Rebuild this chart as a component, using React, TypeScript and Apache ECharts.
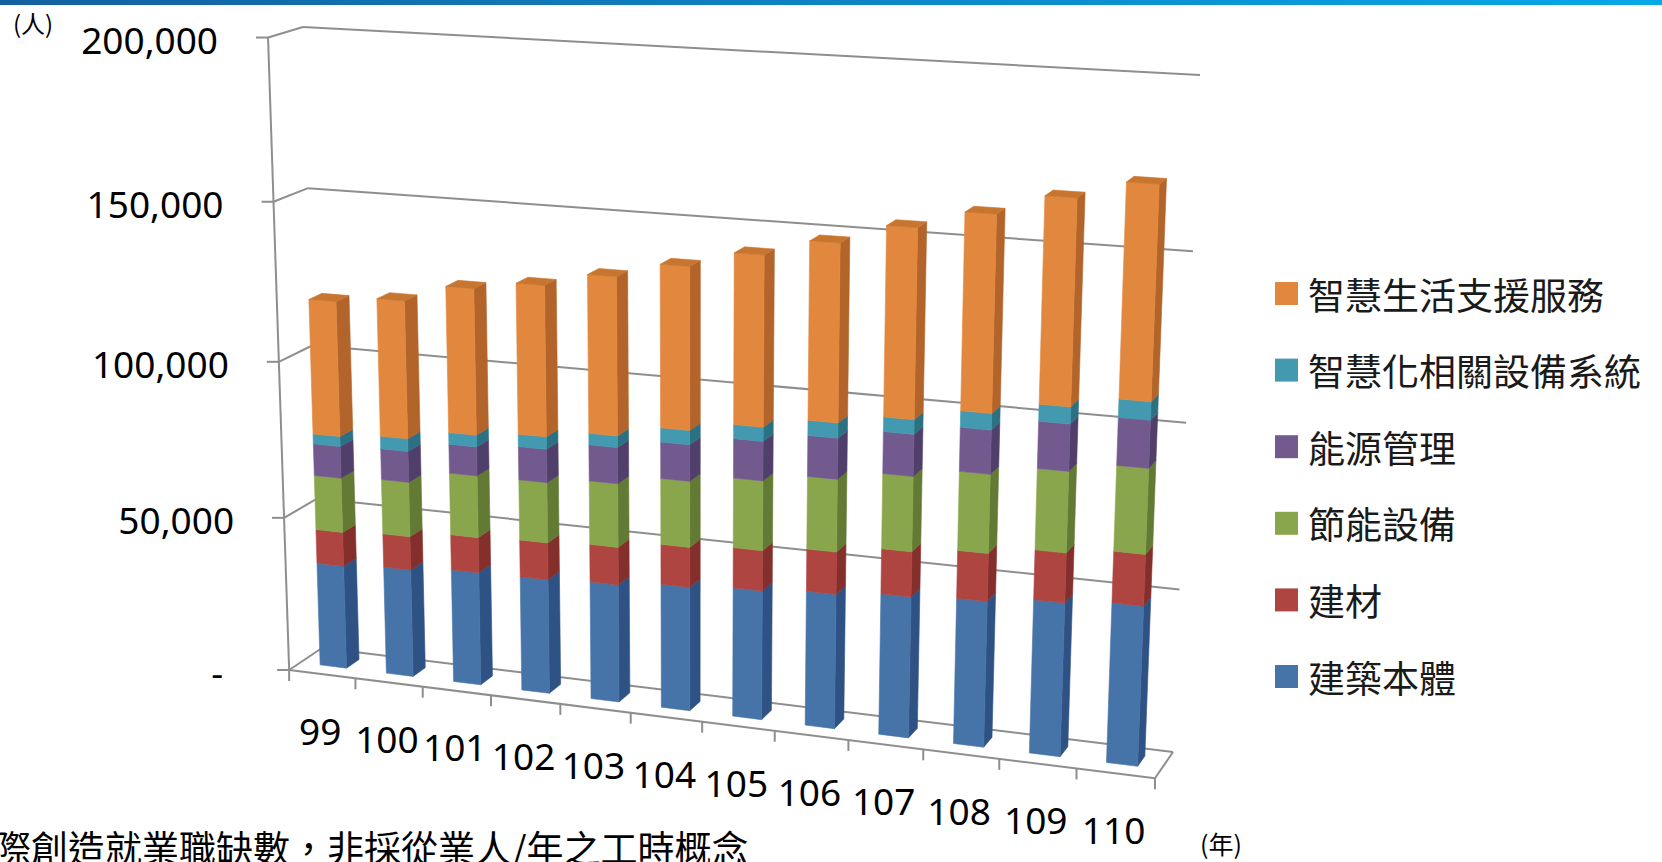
import React, { useEffect, useRef } from "react";
import * as echarts from "echarts";

// ---------------- data ----------------
const years = ["99", "100", "101", "102", "103", "104", "105", "106", "107", "108", "109", "110"];
const seriesNames = ["建築本體", "建材", "節能設備", "能源管理", "智慧化相關設備系統", "智慧生活支援服務"];
const building = [33700, 34900, 36500, 36700, 37600, 39300, 40700, 42200, 43900, 45100, 47200, 48800];
const materials = [11000, 10800, 11300, 11800, 11900, 12600, 12600, 13100, 13900, 14600, 15100, 15500];
const equipment = [17600, 17500, 19700, 19100, 20000, 20600, 21600, 22300, 22900, 23900, 24400, 25500];
const energyMgmt = [10200, 9900, 9200, 10500, 11300, 11300, 12100, 12500, 12700, 13200, 14000, 14100];
const smartSystems = [3200, 4000, 3700, 3900, 3600, 4400, 4300, 4600, 4400, 4900, 5000, 5400];
const smartLiving = [42800, 43400, 45700, 46800, 48800, 49800, 51800, 53600, 56600, 58200, 60400, 62200];
const yTicks = [0, 50000, 100000, 150000, 200000];
const yTickLabels = ["-", "50,000", "100,000", "150,000", "200,000"];
const yMax = 200000;
const unitY = "(人)";
const unitX = "(年)";
const noteText = "際創造就業職缺數，非採從業人/年之工時概念";

const layers = [building, materials, equipment, energyMgmt, smartSystems, smartLiving];
const frontColors = ["#4673A8", "#AF4541", "#8AA64C", "#735A8E", "#4299B0", "#E2883E"];
const sideColors = ["#2F5284", "#852F2C", "#627A34", "#503F6A", "#2C7083", "#B2642A"];
const topColors = ["#3A6296", "#9A3A36", "#789343", "#62507E", "#36859C", "#C8752F"];

// ---------------- perspective ----------------
type P2 = [number, number];
const BL: P2 = [322, 648];
const BR: P2 = [1173, 752];
const TR: P2 = [1200, 75];
const TL: P2 = [303, 27];
const FRONT_PTS: [number, number, number, number][] = [
  [0, 0, 292, 668],
  [1, 0, 1155, 780],
  [0, 1, 265, 38],
];

function solve3(M: number[][], r: number[]) {
  const det = (m: number[][]) =>
    m[0][0] * (m[1][1] * m[2][2] - m[1][2] * m[2][1]) -
    m[0][1] * (m[1][0] * m[2][2] - m[1][2] * m[2][0]) +
    m[0][2] * (m[1][0] * m[2][1] - m[1][1] * m[2][0]);
  const D = det(M);
  return [0, 1, 2].map((k) => {
    const Mk = M.map((row, i) => row.map((val, j) => (j === k ? r[i] : val)));
    return det(Mk) / D;
  });
}

function buildProjection() {
  const [x0, y0] = BL, [x1, y1] = BR, [x2, y2] = TR, [x3, y3] = TL;
  const sx = x0 - x1 + x2 - x3, sy = y0 - y1 + y2 - y3;
  const dx1 = x1 - x2, dx2 = x3 - x2, dy1 = y1 - y2, dy2 = y3 - y2;
  const den = dx1 * dy2 - dx2 * dy1;
  const g = (sx * dy2 - dx2 * sy) / den;
  const h = (dx1 * sy - sx * dy1) / den;
  const a = x1 - x0 + g * x1, b = x3 - x0 + h * x3, c = x0;
  const d = y1 - y0 + g * y1, e = y3 - y0 + h * y3, f = y0;
  const rows: number[][] = [];
  const rhs: number[] = [];
  FRONT_PTS.forEach(([u, v, X, Y]) => {
    const w = g * u + h * v + 1;
    rows.push([1, 0, -X]);
    rhs.push(X * w - (a * u + b * v + c));
    rows.push([0, 1, -Y]);
    rhs.push(Y * w - (d * u + e * v + f));
  });
  const N = [0, 1, 2].map((i) => [0, 1, 2].map((j) => rows.reduce((s, r) => s + r[i] * r[j], 0)));
  const nr = [0, 1, 2].map((i) => rows.reduce((s, r, k) => s + r[i] * rhs[k], 0));
  const [A, B, C] = solve3(N, nr);
  return (u: number, v: number, z: number): P2 => {
    const W = g * u + h * v + 1 + C * z;
    return [(a * u + b * v + c + A * z) / W, (d * u + e * v + f + B * z) / W];
  };
}
const project = buildProjection();

const GRID = { left: 0, top: 0, width: 1200, height: 800 };
const BAR_HALF = 0.2;
const Z_BACK = 0.27;
const Z_FRONT = 0.66;
const NUM_FONT = "'Noto Sans', 'Noto Sans CJK TC', sans-serif";
const CJK_FONT = "'Noto Sans CJK TC', 'Noto Sans', sans-serif";
const GRID_COLOR = "#8e8e8e";

const poly = (pts: P2[], color: string) => ({
  type: "polygon",
  shape: { points: pts },
  style: { fill: color, stroke: color, lineWidth: 0.6 },
});

const makeRender = (li: number, drawTop: boolean) => (_params: any, api: any) => {
  const i = api.value(0), lo = api.value(1), hi = api.value(2);
  const pl = api.coord([i, lo]);
  const ph = api.coord([i, hi]);
  const band = api.size([1, 0])[0];
  const uc = (pl[0] - GRID.left) / GRID.width;
  const du = (band / GRID.width) * BAR_HALF;
  const u0 = uc - du, u1 = uc + du;
  const vb = (GRID.top + GRID.height - pl[1]) / GRID.height;
  const vt = (GRID.top + GRID.height - ph[1]) / GRID.height;
  const P = project;
  const children: any[] = [
    poly([P(u1, vb, Z_FRONT), P(u1, vb, Z_BACK), P(u1, vt, Z_BACK), P(u1, vt, Z_FRONT)], sideColors[li]),
    poly([P(u0, vb, Z_FRONT), P(u1, vb, Z_FRONT), P(u1, vt, Z_FRONT), P(u0, vt, Z_FRONT)], frontColors[li]),
  ];
  if (drawTop) {
    children.push(poly([P(u0, vt, Z_FRONT), P(u1, vt, Z_FRONT), P(u1, vt, Z_BACK), P(u0, vt, Z_BACK)], topColors[li]));
  }
  return { type: "group", children };
};

function buildGraphics() {
  const els: any[] = [];
  const line = (p: P2, q: P2) => ({
    type: "line",
    silent: true,
    z: 1,
    shape: { x1: p[0], y1: p[1], x2: q[0], y2: q[1] },
    style: { stroke: GRID_COLOR, lineWidth: 2 },
  });
  els.push({
    type: "rect",
    z: 1,
    shape: { x: 0, y: 0, width: 1662, height: 5 },
    style: {
      fill: new echarts.graphic.LinearGradient(0, 0, 1, 0, [
        { offset: 0, color: "#13609f" },
        { offset: 1, color: "#08a8e8" },
      ]),
    },
  });
  yTicks.forEach((t, k) => {
    const v = t / yMax;
    const bl = project(0, v, 0), br = project(1, v, 0), fl = project(0, v, 1);
    els.push(line(bl, br));
    els.push(line(bl, fl));
    els.push(line(fl, [fl[0] - 12, fl[1]]));
    els.push({
      type: "text",
      z: 1,
      x: fl[0] + (t === 0 ? -66 : -50),
      y: fl[1] + 2,
      style: {
        text: yTickLabels[k],
        fill: "#000",
        fontSize: 37,
        fontFamily: NUM_FONT,
        align: "right",
        verticalAlign: "middle",
      },
    });
  });
  els.push(line(project(0, 0, 1), project(0, 1, 1)));
  els.push(line(project(0, 0, 1), project(1, 0, 1)));
  els.push(line(project(1, 0, 1), project(1, 0, 0)));
  for (let k = 0; k <= years.length; k++) {
    const p = project(k / years.length, 0, 1);
    els.push(line(p, [p[0], p[1] + 11]));
  }
  years.forEach((y, i) => {
    const p = project((i + 0.5) / years.length, 0, 1);
    els.push({
      type: "text",
      z: 1,
      x: p[0] - 2,
      y: p[1] + 56,
      style: {
        text: y,
        fill: "#000",
        fontSize: 37,
        fontFamily: NUM_FONT,
        align: "center",
        verticalAlign: "middle",
      },
    });
  });
  els.push({
    type: "text", z: 1, x: 33, y: 22,
    style: { text: unitY, fill: "#000", fontSize: 24, fontFamily: CJK_FONT, align: "center", verticalAlign: "middle" },
  });
  els.push({
    type: "text", z: 1, x: 1221, y: 843,
    style: { text: unitX, fill: "#000", fontSize: 25, fontFamily: CJK_FONT, align: "center", verticalAlign: "middle" },
  });
  els.push({
    type: "text", z: 1, x: -6, y: 828,
    style: { text: noteText, fill: "#000", fontSize: 37, fontFamily: CJK_FONT, align: "left", verticalAlign: "top" },
  });
  return els;
}

export default function App() {
  const ref = useRef<HTMLDivElement>(null);
  useEffect(() => {
    if (!ref.current) return;
    const chart = echarts.init(ref.current, undefined, { renderer: "svg" });
    const cum: number[][] = [];
    layers.forEach((arr, li) => {
      cum.push(arr.map((v, i) => (li === 0 ? 0 : cum[li - 1][i] + layers[li - 1][i])));
    });
    const series = layers.map((arr, li) => ({
      name: seriesNames[li],
      type: "custom",
      z: 5,
      clip: false,
      itemStyle: { color: frontColors[li] },
      renderItem: makeRender(li, li === layers.length - 1),
      data: arr.map((v, i) => [i, cum[li][i], cum[li][i] + v]),
      encode: { x: 0, y: [1, 2] },
    }));
    chart.setOption({
      animation: false,
      color: frontColors,
      grid: { ...GRID, containLabel: false },
      xAxis: { type: "category", data: years, show: false },
      yAxis: { type: "value", min: 0, max: yMax, show: false },
      legend: {
        data: [...seriesNames].reverse(),
        orient: "vertical",
        left: 1270,
        top: 268.5,
        itemWidth: 23,
        itemHeight: 23,
        itemGap: 36.6,
        icon: "rect",
        selectedMode: false,
        textStyle: { fontSize: 37, lineHeight: 40, color: "#1a1a1a", fontFamily: CJK_FONT, padding: [0, 0, 0, 5] },
      },
      tooltip: { show: false },
      graphic: buildGraphics(),
      series,
    });
    return () => chart.dispose();
  }, []);
  return <div ref={ref} style={{ position: "absolute", left: 0, top: 0, width: 1662, height: 862 }} />;
}
